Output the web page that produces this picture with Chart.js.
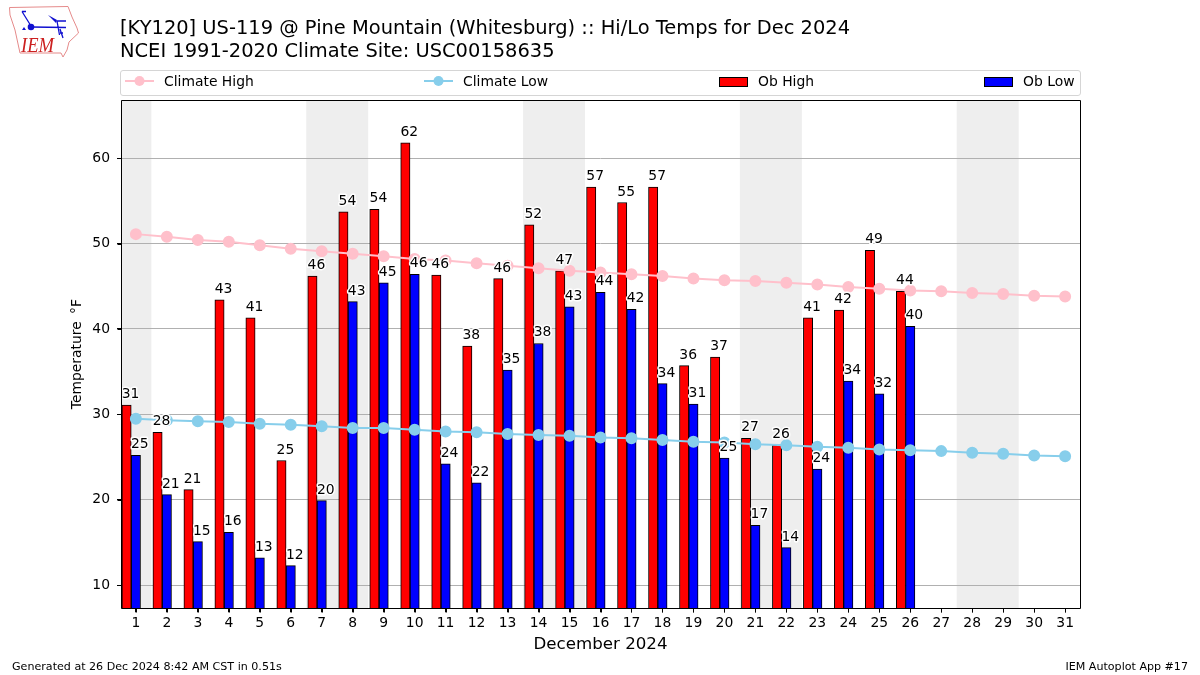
<!DOCTYPE html>
<html>
<head>
<meta charset="utf-8">
<script src="https://cdn.jsdelivr.net/npm/chart.js@4"></script>
<style>
  body { margin: 0; background: #fff; font-family: "DejaVu Sans", sans-serif; color: #000; }
  #wrap { position: relative; width: 1200px; height: 675px; overflow: hidden; }
  canvas { position: absolute; left: 0; top: 0; }
  .txt { position: absolute; white-space: nowrap; }
  #title { left: 120px; top: 17px; font-size: 19.44px; line-height: 22.5px; }
  #legend { position: absolute; left: 120px; top: 70px; width: 959px; height: 24px; border: 1px solid #d5d5d5; border-radius: 3px; }
  .leg { position: absolute; top: 0; height: 24px; font-size: 13.9px; line-height: 20px; }
  .leg svg { position: absolute; left: 0; top: 3px; }
  .leg span { position: absolute; white-space: nowrap; }
  #foot1 { left: 12px; top: 660px; font-size: 11.1px; }
  #foot2 { right: 12px; top: 660px; font-size: 11.1px; }
  #logo { position: absolute; left: 8px; top: 5px; }
</style>
</head>
<body>
<div id="wrap">
  <canvas id="chart" width="1200" height="675"></canvas>
  <svg id="logo" width="72" height="54" viewBox="8 5 72 54">
    <path d="M9.5 7.5 L68 6.5 L72 17 L77 28 L78.5 33 L69 42 L67 50 L63 57 L61 53 L20 53 L15 30 L10 15 Z" fill="none" stroke="#e58a8a" stroke-width="1"/>
    <path d="M22 11.5 L26 11.5 M22 11.5 L31 26 M31 27 L66 27.5 M57 21 L66 21 M57 21 L59.5 35 M60 29 L63 38 M60 33 L63 33" fill="none" stroke="#1010d0" stroke-width="1.3"/>
    <path d="M48 15 L57 20 L56 23 Z" fill="#1010d0"/>
    <path d="M24 27 L26 30 L22 30 Z" fill="#1010d0"/>
    <circle cx="31" cy="27" r="3.3" fill="#1010d0"/>
    <text x="21" y="52" font-family="Liberation Serif" font-style="italic" font-size="21" textLength="33" lengthAdjust="spacingAndGlyphs" fill="#cc2020">IEM</text>
  </svg>
  <div id="title" class="txt">[KY120] US-119 @ Pine Mountain (Whitesburg) :: Hi/Lo Temps for Dec 2024<br>NCEI 1991-2020 Climate Site: USC00158635</div>
  <div id="legend">
    <div class="leg" style="left:4px"><svg width="30" height="16"><line x1="0" y1="7" x2="29" y2="7" stroke="#ffc0cb" stroke-width="2"/><circle cx="14.5" cy="7" r="5" fill="#ffc0cb"/></svg><span style="left:39px">Climate High</span></div>
    <div class="leg" style="left:303px"><svg width="30" height="16"><line x1="0" y1="7" x2="29" y2="7" stroke="#87ceeb" stroke-width="2"/><circle cx="14.5" cy="7" r="5" fill="#87ceeb"/></svg><span style="left:39px">Climate Low</span></div>
    <div class="leg" style="left:598px"><svg width="30" height="16"><rect x="0.5" y="3.5" width="28" height="9" fill="#f00" stroke="#000"/></svg><span style="left:39px">Ob High</span></div>
    <div class="leg" style="left:863px"><svg width="30" height="16"><rect x="0.5" y="3.5" width="28" height="9" fill="#00f" stroke="#000"/></svg><span style="left:39px">Ob Low</span></div>
  </div>
  <div id="foot1" class="txt">Generated at 26 Dec 2024 8:42 AM CST in 0.51s</div>
  <div id="foot2" class="txt">IEM Autoplot App #17</div>
</div>
<script>
// values
const days = [1,2,3,4,5,6,7,8,9,10,11,12,13,14,15,16,17,18,19,20,21,22,23,24,25,26,27,28,29,30,31];
const obHigh = [31.1,27.9,21.2,43.4,41.3,24.6,46.2,53.7,54.0,61.8,46.3,38.0,45.9,52.2,46.8,56.6,54.8,56.6,35.7,36.7,27.2,26.4,41.3,42.2,49.2,44.4];
const obLow = [25.2,20.6,15.1,16.2,13.2,12.3,19.9,43.2,45.4,46.4,24.2,22.0,35.2,38.3,42.6,44.3,42.3,33.6,31.2,24.9,17.0,14.4,23.6,33.9,32.4,40.3];
const climateHigh = [51.1,50.8,50.4,50.2,49.8,49.4,49.1,48.8,48.5,48.2,48.0,47.7,47.4,47.1,46.8,46.6,46.4,46.2,45.9,45.7,45.6,45.4,45.2,44.9,44.7,44.5,44.4,44.2,44.1,43.9,43.8];
const climateLow = [29.5,29.3,29.2,29.1,28.9,28.8,28.6,28.4,28.4,28.2,28.0,27.9,27.7,27.6,27.5,27.3,27.2,27.0,26.8,26.7,26.5,26.4,26.2,26.1,25.9,25.8,25.7,25.5,25.4,25.2,25.1];
const weekends = [[0.52,1.5],[6.5,8.5],[13.5,15.5],[20.5,22.5],[27.5,29.5]];
const barOffset = 0.3;

const font = '"DejaVu Sans", sans-serif';

const extras = {
  id: 'extras',
  beforeDraw(chart) {
    // weekend bands sit under the grid lines
    const {ctx, chartArea: a, scales: {x}} = chart;
    ctx.save();
    ctx.fillStyle = '#eeeeee';
    weekends.forEach(w => {
      const x0 = x.getPixelForValue(w[0]), x1 = x.getPixelForValue(w[1]);
      ctx.fillRect(x0, a.top, x1 - x0, a.bottom - a.top);
    });
    ctx.restore();
  },
  afterDraw(chart) {
    const {ctx, chartArea: a, scales: {x, y}} = chart;
    ctx.save();
    ctx.font = '13.9px ' + font;
    ctx.textAlign = 'center';
    ctx.textBaseline = 'alphabetic';
    ctx.lineJoin = 'round';
    const label = (v, px) => {
      const t = Math.round(v).toString();
      const py = y.getPixelForValue(v) - 7;
      ctx.strokeStyle = '#fff';
      ctx.lineWidth = 3;
      ctx.strokeText(t, px, py);
      ctx.fillStyle = '#000';
      ctx.fillText(t, px, py);
    };
    obHigh.forEach((v, i) => label(v, x.getPixelForValue(days[i] - barOffset) + 4));
    obLow.forEach((v, i) => label(v, x.getPixelForValue(days[i]) + 4));
    ctx.strokeStyle = '#000';
    ctx.lineWidth = 1;
    const left = Math.round(a.left) + 0.5, top = Math.round(a.top) + 0.5;
    const w = Math.round(a.right - a.left), h = Math.round(a.bottom - a.top);
    ctx.strokeRect(left, top, w, h);
    // tick marks off the library scales
    ctx.beginPath();
    x.ticks.forEach(t => {
      const px = Math.round(x.getPixelForValue(t.value)) + 0.5;
      ctx.moveTo(px, top + h);
      ctx.lineTo(px, top + h + 4);
    });
    y.ticks.forEach(t => {
      const py = Math.round(y.getPixelForValue(t.value)) + 0.5;
      ctx.moveTo(left, py);
      ctx.lineTo(left - 4, py);
    });
    ctx.stroke();
    ctx.restore();
  }
};

new Chart(document.getElementById('chart'), {
  data: {
    datasets: [
      { type: 'line', label: 'Climate High', order: 1, data: days.map((d, i) => ({x: d, y: climateHigh[i]})),
        borderColor: '#ffc0cb', backgroundColor: '#ffc0cb', borderWidth: 2, pointRadius: 5, pointHoverRadius: 5, tension: 0 },
      { type: 'line', label: 'Climate Low', order: 1, data: days.map((d, i) => ({x: d, y: climateLow[i]})),
        borderColor: '#87ceeb', backgroundColor: '#87ceeb', borderWidth: 2, pointRadius: 5, pointHoverRadius: 5, tension: 0 },
      { type: 'bar', label: 'Ob High', order: 2, grouped: false, barThickness: 9.3, data: obHigh.map((v, i) => ({x: days[i] - barOffset, y: v})),
        backgroundColor: '#ff0000', borderColor: '#000', borderWidth: 1 },
      { type: 'bar', label: 'Ob Low', order: 2, grouped: false, barThickness: 9.3, data: obLow.map((v, i) => ({x: days[i], y: v})),
        backgroundColor: '#0000ff', borderColor: '#000', borderWidth: 1 }
    ]
  },
  options: {
    responsive: false,
    animation: false,
    layout: { padding: { left: 0, right: 120, top: 100, bottom: 18 } },
    plugins: { legend: { display: false }, title: { display: false }, tooltip: { enabled: false } },
    scales: {
      x: {
        type: 'linear', min: 0.52, max: 31.48, offset: false,
        grid: { offset: false, drawOnChartArea: false, drawTicks: true, tickLength: 4, tickColor: '#000' },
        border: { color: '#000', width: 0 },
        ticks: { stepSize: 1, includeBounds: false, autoSkip: false, maxRotation: 0, color: '#000', padding: 3, font: { family: font, size: 13.9 } },
        title: { display: true, text: 'December 2024', color: '#000', padding: { top: 0, bottom: 2 }, font: { family: font, size: 16.67 } }
      },
      y: {
        type: 'linear', min: 7.3, max: 66.8,
        afterFit(s) { s.width = 121; },
        grid: { color: '#b0b0b0', tickColor: '#000', tickLength: 4 },
        border: { color: '#000', width: 0 },
        ticks: { stepSize: 10, includeBounds: false, color: '#000', padding: 7, font: { family: font, size: 13.9 }, callback: v => v },
        title: { display: true, text: 'Temperature \u2009\u00b0F', color: '#000', padding: { top: 69, bottom: 0 }, font: { family: font, size: 13.9 } }
      }
    }
  },
  plugins: [extras]
});
</script>
</body>
</html>
